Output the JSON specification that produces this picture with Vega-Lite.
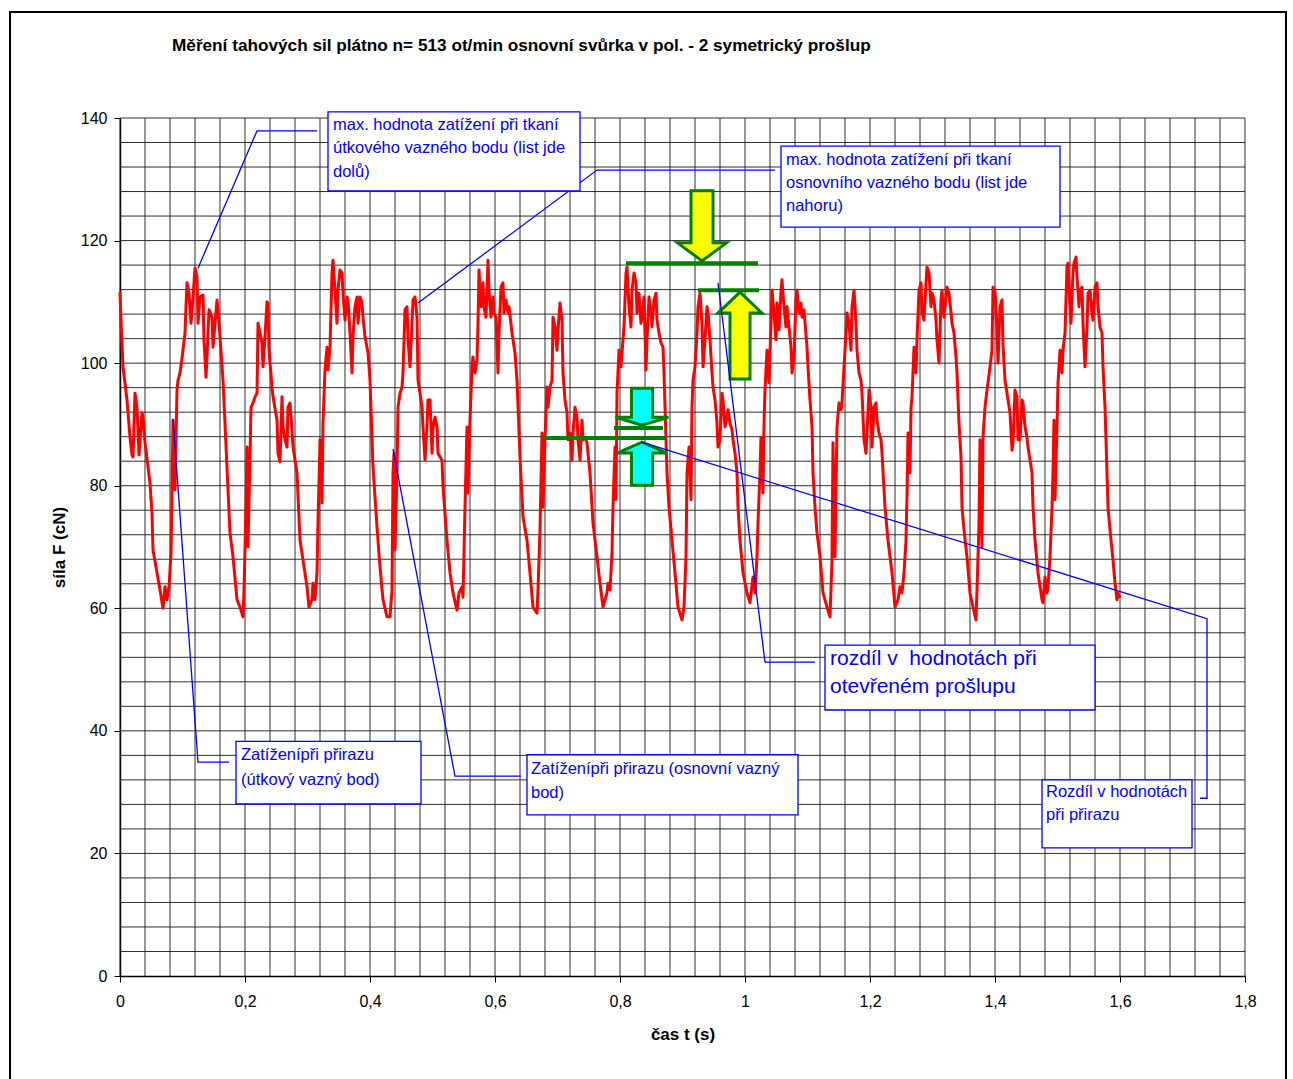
{
 "$schema": "https://vega.github.io/schema/vega-lite/v6.json",
 "width": 1125,
 "height": 858,
 "autosize": {"type": "none"},
 "padding": {"left": 120, "top": 118, "right": 48, "bottom": 103},
 "background": "white",
 "config": {"font": "Liberation Sans", "view": {"stroke": null}},
 "title": {"text": "Měření tahových sil plátno n= 513 ot/min osnovní svůrka v pol. - 2 symetrický prošlup", "anchor": "start", "frame": "group", "dx": 52, "offset": -43, "fontSize": 17.2, "fontWeight": "bold", "color": "#000000", "font": "Liberation Sans"},
 "datasets": {
  "frame": [{"t": -0.176, "t2": 1.8656, "F": 157.3, "F2": -20}],
  "gridX": [{"t":0},{"t":0.04},{"t":0.08},{"t":0.12},{"t":0.16},{"t":0.2},{"t":0.24},{"t":0.28},{"t":0.32},{"t":0.36},{"t":0.4},{"t":0.44},{"t":0.48},{"t":0.52},{"t":0.56},{"t":0.6},{"t":0.64},{"t":0.68},{"t":0.72},{"t":0.76},{"t":0.8},{"t":0.84},{"t":0.88},{"t":0.92},{"t":0.96},{"t":1},{"t":1.04},{"t":1.08},{"t":1.12},{"t":1.16},{"t":1.2},{"t":1.24},{"t":1.28},{"t":1.32},{"t":1.36},{"t":1.4},{"t":1.44},{"t":1.48},{"t":1.52},{"t":1.56},{"t":1.6},{"t":1.64},{"t":1.68},{"t":1.72},{"t":1.76},{"t":1.8}],
  "gridY": [{"F":4},{"F":8},{"F":12},{"F":16},{"F":20},{"F":24},{"F":28},{"F":32},{"F":36},{"F":40},{"F":44},{"F":48},{"F":52},{"F":56},{"F":60},{"F":64},{"F":68},{"F":72},{"F":76},{"F":80},{"F":84},{"F":88},{"F":92},{"F":96},{"F":100},{"F":104},{"F":108},{"F":112},{"F":116},{"F":120},{"F":124},{"F":128},{"F":132},{"F":136},{"F":140}],
  "force": [
{"t":0,"F":111.6},{"t":0.0016,"F":107.0},{"t":0.0048,"F":99.4},{"t":0.0112,"F":94.0},{"t":0.016,"F":87.9},{"t":0.0192,"F":85.0},{"t":0.0208,"F":84.7},{"t":0.024,"F":95.1},{"t":0.0272,"F":92.8},{"t":0.0304,"F":85.0},{"t":0.0352,"F":91.9},{"t":0.0368,"F":91.2},{"t":0.04,"F":87.0},{"t":0.0448,"F":83.1},{"t":0.048,"F":80.4},{"t":0.0512,"F":75.5},{"t":0.0528,"F":69.5},{"t":0.0592,"F":65.8},{"t":0.064,"F":63.0},{"t":0.0688,"F":60.0},{"t":0.072,"F":63.5},{"t":0.0752,"F":61.4},{"t":0.0784,"F":63.5},{"t":0.0816,"F":69.0},{"t":0.0832,"F":78.8},{"t":0.0848,"F":90.7},{"t":0.088,"F":79.3},{"t":0.0912,"F":95.6},{"t":0.0928,"F":97.2},{"t":0.096,"F":98.4},{"t":0.0992,"F":100.8},{"t":0.1008,"F":102.1},{"t":0.104,"F":104.9},{"t":0.1056,"F":109.2},{"t":0.1072,"F":113.1},{"t":0.1104,"F":111.4},{"t":0.1136,"F":106.5},{"t":0.1168,"F":110.8},{"t":0.12,"F":115.5},{"t":0.1232,"F":114.1},{"t":0.1248,"F":106.5},{"t":0.128,"F":110.8},{"t":0.1328,"F":111.1},{"t":0.1344,"F":103.8},{"t":0.1376,"F":97.7},{"t":0.1392,"F":101.0},{"t":0.1424,"F":108.7},{"t":0.1472,"F":107.5},{"t":0.1488,"F":102.6},{"t":0.152,"F":106.5},{"t":0.1552,"F":110.3},{"t":0.1568,"F":108.7},{"t":0.16,"F":104.3},{"t":0.1648,"F":97.2},{"t":0.168,"F":90.2},{"t":0.1728,"F":79.3},{"t":0.176,"F":72.3},{"t":0.1808,"F":68.4},{"t":0.1872,"F":61.4},{"t":0.192,"F":60.2},{"t":0.1968,"F":58.6},{"t":0.1984,"F":63.0},{"t":0.2016,"F":76.5},{"t":0.2032,"F":86.3},{"t":0.2048,"F":70.0},{"t":0.208,"F":84.7},{"t":0.2096,"F":92.8},{"t":0.2128,"F":93.5},{"t":0.216,"F":94.5},{"t":0.2192,"F":95.1},{"t":0.2208,"F":106.5},{"t":0.224,"F":104.9},{"t":0.2272,"F":103.3},{"t":0.2288,"F":99.4},{"t":0.232,"F":104.3},{"t":0.2352,"F":110.0},{"t":0.2368,"F":109.8},{"t":0.2384,"F":102.1},{"t":0.2432,"F":96.1},{"t":0.2448,"F":94.5},{"t":0.2512,"F":90.7},{"t":0.2528,"F":85.3},{"t":0.256,"F":83.9},{"t":0.2592,"F":94.5},{"t":0.2608,"F":89.6},{"t":0.264,"F":87.5},{"t":0.2672,"F":86.3},{"t":0.2688,"F":92.8},{"t":0.272,"F":93.5},{"t":0.2752,"F":89.1},{"t":0.2768,"F":86.3},{"t":0.2832,"F":82.1},{"t":0.288,"F":71.1},{"t":0.2928,"F":67.9},{"t":0.2992,"F":63.5},{"t":0.3024,"F":60.2},{"t":0.3072,"F":61.4},{"t":0.3088,"F":64.1},{"t":0.312,"F":61.4},{"t":0.3152,"F":65.8},{"t":0.3168,"F":73.9},{"t":0.32,"F":87.5},{"t":0.3232,"F":77.2},{"t":0.3248,"F":90.2},{"t":0.328,"F":98.9},{"t":0.3312,"F":102.6},{"t":0.3328,"F":98.9},{"t":0.336,"F":102.6},{"t":0.3392,"F":114.7},{"t":0.3408,"F":116.8},{"t":0.344,"F":111.9},{"t":0.3472,"F":106.5},{"t":0.3488,"F":111.9},{"t":0.352,"F":115.2},{"t":0.3552,"F":114.7},{"t":0.3568,"F":111.4},{"t":0.36,"F":107.0},{"t":0.3632,"F":110.8},{"t":0.3648,"F":110.3},{"t":0.368,"F":104.9},{"t":0.3712,"F":98.4},{"t":0.3728,"F":104.3},{"t":0.376,"F":109.2},{"t":0.3792,"F":110.8},{"t":0.3808,"F":106.5},{"t":0.384,"F":110.8},{"t":0.3872,"F":109.8},{"t":0.3888,"F":107.5},{"t":0.392,"F":104.3},{"t":0.3968,"F":101.7},{"t":0.4,"F":97.2},{"t":0.4048,"F":83.1},{"t":0.408,"F":78.2},{"t":0.4112,"F":73.3},{"t":0.416,"F":66.7},{"t":0.4208,"F":61.4},{"t":0.4272,"F":58.6},{"t":0.432,"F":58.6},{"t":0.4352,"F":63.0},{"t":0.4368,"F":82.1},{"t":0.4384,"F":85.3},{"t":0.44,"F":69.5},{"t":0.4432,"F":82.1},{"t":0.4448,"F":92.8},{"t":0.448,"F":95.1},{"t":0.4512,"F":96.1},{"t":0.4528,"F":98.4},{"t":0.456,"F":108.7},{"t":0.4592,"F":109.2},{"t":0.4608,"F":103.8},{"t":0.464,"F":99.4},{"t":0.4672,"F":106.5},{"t":0.4688,"F":110.3},{"t":0.472,"F":110.8},{"t":0.4752,"F":107.5},{"t":0.4768,"F":97.2},{"t":0.48,"F":95.1},{"t":0.4832,"F":92.8},{"t":0.4848,"F":89.6},{"t":0.488,"F":84.2},{"t":0.4912,"F":89.6},{"t":0.4928,"F":94.0},{"t":0.496,"F":94.0},{"t":0.4992,"F":85.3},{"t":0.5008,"F":89.6},{"t":0.504,"F":91.2},{"t":0.5072,"F":89.6},{"t":0.5088,"F":85.3},{"t":0.512,"F":84.7},{"t":0.5152,"F":84.2},{"t":0.5168,"F":79.8},{"t":0.5232,"F":71.1},{"t":0.528,"F":65.8},{"t":0.5328,"F":62.5},{"t":0.5392,"F":59.7},{"t":0.5424,"F":62.5},{"t":0.5472,"F":63.5},{"t":0.5488,"F":61.8},{"t":0.552,"F":76.5},{"t":0.5552,"F":89.6},{"t":0.5568,"F":78.8},{"t":0.56,"F":90.7},{"t":0.5632,"F":99.4},{"t":0.5648,"F":101.0},{"t":0.568,"F":98.4},{"t":0.5712,"F":100.5},{"t":0.5728,"F":106.5},{"t":0.5744,"F":115.2},{"t":0.5776,"F":109.2},{"t":0.5808,"F":113.1},{"t":0.5824,"F":109.2},{"t":0.5856,"F":107.5},{"t":0.5888,"F":116.8},{"t":0.5904,"F":111.9},{"t":0.5936,"F":107.5},{"t":0.5968,"F":110.8},{"t":0.5984,"F":108.2},{"t":0.6016,"F":107.5},{"t":0.6048,"F":98.4},{"t":0.6064,"F":104.9},{"t":0.6096,"F":112.4},{"t":0.6128,"F":113.1},{"t":0.6144,"F":108.2},{"t":0.6176,"F":110.3},{"t":0.6208,"F":108.2},{"t":0.6224,"F":109.2},{"t":0.6272,"F":104.9},{"t":0.632,"F":101.7},{"t":0.6352,"F":97.2},{"t":0.64,"F":84.7},{"t":0.6448,"F":74.9},{"t":0.6512,"F":71.1},{"t":0.656,"F":65.8},{"t":0.6608,"F":60.2},{"t":0.6672,"F":59.2},{"t":0.6688,"F":63.0},{"t":0.672,"F":72.8},{"t":0.6752,"F":88.6},{"t":0.6768,"F":76.5},{"t":0.68,"F":87.5},{"t":0.6832,"F":96.1},{"t":0.6848,"F":92.8},{"t":0.688,"F":96.1},{"t":0.6912,"F":97.2},{"t":0.6928,"F":107.5},{"t":0.696,"F":105.9},{"t":0.6992,"F":102.1},{"t":0.7008,"F":105.4},{"t":0.704,"F":109.8},{"t":0.7072,"F":107.0},{"t":0.7088,"F":98.4},{"t":0.712,"F":94.0},{"t":0.7152,"F":91.9},{"t":0.7168,"F":87.5},{"t":0.72,"F":88.6},{"t":0.7232,"F":84.2},{"t":0.7248,"F":88.6},{"t":0.728,"F":92.8},{"t":0.7312,"F":91.2},{"t":0.7328,"F":87.5},{"t":0.736,"F":84.2},{"t":0.7392,"F":90.7},{"t":0.7408,"F":87.5},{"t":0.744,"F":87.9},{"t":0.7472,"F":87.0},{"t":0.7488,"F":85.3},{"t":0.752,"F":82.1},{"t":0.7568,"F":73.9},{"t":0.7632,"F":68.4},{"t":0.768,"F":64.1},{"t":0.7728,"F":60.2},{"t":0.7792,"F":62.5},{"t":0.7808,"F":64.1},{"t":0.784,"F":63.0},{"t":0.7872,"F":69.0},{"t":0.7888,"F":76.5},{"t":0.792,"F":86.3},{"t":0.7936,"F":77.7},{"t":0.7952,"F":95.1},{"t":0.7984,"F":102.1},{"t":0.8016,"F":99.4},{"t":0.8032,"F":101.7},{"t":0.8064,"F":105.9},{"t":0.8096,"F":114.7},{"t":0.8112,"F":115.7},{"t":0.8144,"F":109.2},{"t":0.8176,"F":105.9},{"t":0.8192,"F":111.9},{"t":0.8224,"F":114.7},{"t":0.8256,"F":113.1},{"t":0.8272,"F":108.2},{"t":0.8304,"F":111.4},{"t":0.8336,"F":106.5},{"t":0.8352,"F":107.5},{"t":0.8384,"F":110.8},{"t":0.8416,"F":98.9},{"t":0.8432,"F":103.8},{"t":0.8464,"F":110.8},{"t":0.8496,"F":108.2},{"t":0.8512,"F":105.9},{"t":0.8544,"F":110.3},{"t":0.8576,"F":111.4},{"t":0.8592,"F":107.0},{"t":0.8624,"F":104.9},{"t":0.8656,"F":103.3},{"t":0.8688,"F":102.6},{"t":0.8704,"F":98.4},{"t":0.8736,"F":87.5},{"t":0.8752,"F":82.1},{"t":0.8784,"F":76.5},{"t":0.8832,"F":71.1},{"t":0.888,"F":65.8},{"t":0.8928,"F":60.2},{"t":0.8992,"F":58.1},{"t":0.9024,"F":60.2},{"t":0.9056,"F":68.4},{"t":0.9072,"F":82.1},{"t":0.9104,"F":86.3},{"t":0.9136,"F":77.7},{"t":0.9152,"F":92.8},{"t":0.9168,"F":97.2},{"t":0.92,"F":99.4},{"t":0.9232,"F":104.9},{"t":0.9248,"F":109.2},{"t":0.928,"F":111.4},{"t":0.9312,"F":106.5},{"t":0.9328,"F":99.4},{"t":0.936,"F":103.8},{"t":0.9392,"F":109.2},{"t":0.9408,"F":108.2},{"t":0.944,"F":103.8},{"t":0.9472,"F":98.4},{"t":0.9488,"F":96.1},{"t":0.952,"F":94.0},{"t":0.9552,"F":90.2},{"t":0.9568,"F":86.3},{"t":0.96,"F":87.5},{"t":0.9632,"F":95.1},{"t":0.9648,"F":94.0},{"t":0.968,"F":89.6},{"t":0.9712,"F":91.2},{"t":0.9728,"F":92.4},{"t":0.976,"F":90.2},{"t":0.9792,"F":89.1},{"t":0.9808,"F":87.5},{"t":0.984,"F":85.3},{"t":0.9872,"F":82.1},{"t":0.9888,"F":76.5},{"t":0.992,"F":71.1},{"t":0.9968,"F":65.8},{"t":1.0032,"F":62.5},{"t":1.008,"F":60.9},{"t":1.0128,"F":65.1},{"t":1.016,"F":62.5},{"t":1.0192,"F":68.4},{"t":1.0208,"F":73.9},{"t":1.024,"F":82.1},{"t":1.0256,"F":87.9},{"t":1.0288,"F":78.8},{"t":1.0304,"F":90.2},{"t":1.032,"F":95.6},{"t":1.0352,"F":102.1},{"t":1.0368,"F":99.4},{"t":1.0384,"F":96.8},{"t":1.0416,"F":106.5},{"t":1.0432,"F":111.9},{"t":1.0464,"F":108.2},{"t":1.0496,"F":103.8},{"t":1.0512,"F":109.8},{"t":1.0544,"F":105.4},{"t":1.0576,"F":111.9},{"t":1.0592,"F":113.6},{"t":1.0624,"F":109.2},{"t":1.0656,"F":105.9},{"t":1.0672,"F":109.2},{"t":1.0704,"F":105.9},{"t":1.0736,"F":102.6},{"t":1.0752,"F":98.4},{"t":1.0784,"F":101.0},{"t":1.0816,"F":110.3},{"t":1.0832,"F":111.9},{"t":1.0864,"F":108.2},{"t":1.0896,"F":109.8},{"t":1.0912,"F":107.5},{"t":1.0944,"F":108.7},{"t":1.0992,"F":102.6},{"t":1.1008,"F":99.4},{"t":1.104,"F":94.0},{"t":1.1072,"F":89.6},{"t":1.1088,"F":82.1},{"t":1.112,"F":76.5},{"t":1.1152,"F":72.3},{"t":1.12,"F":68.4},{"t":1.1248,"F":62.5},{"t":1.1312,"F":60.2},{"t":1.136,"F":58.6},{"t":1.1392,"F":67.9},{"t":1.1408,"F":87.0},{"t":1.144,"F":68.4},{"t":1.1456,"F":79.3},{"t":1.1472,"F":89.6},{"t":1.1504,"F":93.5},{"t":1.1536,"F":92.4},{"t":1.1552,"F":93.5},{"t":1.1584,"F":99.4},{"t":1.1616,"F":104.9},{"t":1.1632,"F":108.2},{"t":1.1664,"F":106.5},{"t":1.1696,"F":102.1},{"t":1.1712,"F":109.2},{"t":1.1744,"F":111.9},{"t":1.1776,"F":106.5},{"t":1.1792,"F":102.1},{"t":1.1824,"F":98.4},{"t":1.1856,"F":97.2},{"t":1.1872,"F":95.1},{"t":1.1904,"F":87.5},{"t":1.1936,"F":85.3},{"t":1.1952,"F":88.6},{"t":1.1984,"F":95.6},{"t":1.2016,"F":92.8},{"t":1.2032,"F":86.3},{"t":1.2064,"F":92.8},{"t":1.2096,"F":93.5},{"t":1.2112,"F":90.7},{"t":1.2144,"F":88.6},{"t":1.2176,"F":87.5},{"t":1.2192,"F":85.3},{"t":1.224,"F":76.5},{"t":1.2288,"F":71.1},{"t":1.2352,"F":65.8},{"t":1.24,"F":60.2},{"t":1.2448,"F":61.4},{"t":1.248,"F":63.5},{"t":1.2512,"F":62.5},{"t":1.2544,"F":65.8},{"t":1.2576,"F":71.1},{"t":1.2592,"F":78.2},{"t":1.2608,"F":88.6},{"t":1.264,"F":82.1},{"t":1.2656,"F":92.8},{"t":1.2672,"F":94.5},{"t":1.2704,"F":102.6},{"t":1.2736,"F":98.4},{"t":1.2752,"F":103.8},{"t":1.2784,"F":111.9},{"t":1.2816,"F":113.1},{"t":1.2832,"F":108.2},{"t":1.2864,"F":107.0},{"t":1.2896,"F":113.1},{"t":1.2912,"F":115.7},{"t":1.2944,"F":114.7},{"t":1.2976,"F":109.2},{"t":1.2992,"F":111.4},{"t":1.3024,"F":110.3},{"t":1.3056,"F":107.0},{"t":1.3072,"F":103.8},{"t":1.3104,"F":100.0},{"t":1.3136,"F":110.3},{"t":1.3152,"F":111.9},{"t":1.3184,"F":107.5},{"t":1.3216,"F":110.8},{"t":1.3232,"F":112.4},{"t":1.3264,"F":111.4},{"t":1.3296,"F":108.2},{"t":1.3312,"F":106.5},{"t":1.3344,"F":104.9},{"t":1.3376,"F":101.0},{"t":1.3392,"F":98.4},{"t":1.3424,"F":90.2},{"t":1.3456,"F":84.7},{"t":1.3472,"F":76.5},{"t":1.3504,"F":72.8},{"t":1.3552,"F":68.4},{"t":1.36,"F":62.5},{"t":1.3648,"F":60.2},{"t":1.3696,"F":58.1},{"t":1.3712,"F":63.0},{"t":1.3744,"F":73.9},{"t":1.376,"F":87.5},{"t":1.3792,"F":70.0},{"t":1.3808,"F":87.9},{"t":1.384,"F":92.8},{"t":1.3872,"F":95.6},{"t":1.3888,"F":96.8},{"t":1.392,"F":99.4},{"t":1.3952,"F":102.1},{"t":1.3968,"F":112.4},{"t":1.4,"F":111.9},{"t":1.4032,"F":105.4},{"t":1.4048,"F":100.0},{"t":1.408,"F":109.2},{"t":1.4112,"F":110.3},{"t":1.4128,"F":103.0},{"t":1.416,"F":97.2},{"t":1.4192,"F":95.1},{"t":1.424,"F":91.9},{"t":1.4272,"F":85.8},{"t":1.4288,"F":87.0},{"t":1.432,"F":95.6},{"t":1.4352,"F":94.5},{"t":1.4368,"F":87.5},{"t":1.44,"F":87.5},{"t":1.4432,"F":94.0},{"t":1.4448,"F":93.5},{"t":1.448,"F":89.6},{"t":1.4512,"F":87.9},{"t":1.4528,"F":86.3},{"t":1.4592,"F":82.1},{"t":1.4608,"F":76.5},{"t":1.464,"F":71.1},{"t":1.4688,"F":65.8},{"t":1.4752,"F":61.4},{"t":1.4768,"F":60.9},{"t":1.48,"F":65.1},{"t":1.4832,"F":62.5},{"t":1.4848,"F":63.5},{"t":1.488,"F":68.4},{"t":1.4912,"F":76.5},{"t":1.4928,"F":82.1},{"t":1.4944,"F":90.7},{"t":1.496,"F":77.7},{"t":1.4992,"F":89.6},{"t":1.5008,"F":96.8},{"t":1.504,"F":102.1},{"t":1.5072,"F":98.4},{"t":1.5088,"F":102.1},{"t":1.512,"F":104.9},{"t":1.5152,"F":115.7},{"t":1.5168,"F":116.3},{"t":1.52,"F":109.2},{"t":1.5216,"F":106.5},{"t":1.5248,"F":114.7},{"t":1.5264,"F":116.3},{"t":1.5296,"F":117.3},{"t":1.5312,"F":114.1},{"t":1.5344,"F":109.2},{"t":1.536,"F":111.9},{"t":1.5392,"F":112.4},{"t":1.5408,"F":106.5},{"t":1.544,"F":99.4},{"t":1.5472,"F":105.9},{"t":1.5488,"F":111.4},{"t":1.552,"F":111.9},{"t":1.5552,"F":108.2},{"t":1.5568,"F":107.0},{"t":1.56,"F":112.4},{"t":1.5632,"F":113.1},{"t":1.5648,"F":109.2},{"t":1.568,"F":105.9},{"t":1.5712,"F":104.9},{"t":1.5728,"F":99.4},{"t":1.576,"F":92.8},{"t":1.5792,"F":82.1},{"t":1.5808,"F":76.5},{"t":1.584,"F":72.8},{"t":1.5888,"F":67.9},{"t":1.592,"F":64.1},{"t":1.5952,"F":61.4},{"t":1.5968,"F":62.5},{"t":1.6,"F":61.7}
  ],
  "leaders": [
   {"grp": "L1", "seq": 1, "t": 0.3152, "F": 137.9}, {"grp": "L1", "seq": 2, "t": 0.2192, "F": 137.9}, {"grp": "L1", "seq": 3, "t": 0.1248, "F": 115.5},
   {"grp": "L2", "seq": 1, "t": 1.048, "F": 131.5}, {"grp": "L2", "seq": 2, "t": 0.7632, "F": 131.5}, {"grp": "L2", "seq": 3, "t": 0.4768, "F": 109.8},
   {"grp": "L3", "seq": 1, "t": 0.9568, "F": 113.1}, {"grp": "L3", "seq": 2, "t": 1.032, "F": 51.2}, {"grp": "L3", "seq": 3, "t": 1.112, "F": 51.2},
   {"grp": "L4", "seq": 1, "t": 0.8352, "F": 87.1}, {"grp": "L4", "seq": 2, "t": 1.7392, "F": 58.3}, {"grp": "L4", "seq": 3, "t": 1.7392, "F": 29.0}, {"grp": "L4", "seq": 4, "t": 1.728, "F": 29.0},
   {"grp": "L5", "seq": 1, "t": 0.0848, "F": 90.9}, {"grp": "L5", "seq": 2, "t": 0.1248, "F": 34.9}, {"grp": "L5", "seq": 3, "t": 0.1744, "F": 34.9},
   {"grp": "L6", "seq": 1, "t": 0.4368, "F": 86.0}, {"grp": "L6", "seq": 2, "t": 0.536, "F": 32.6}, {"grp": "L6", "seq": 3, "t": 0.6416, "F": 32.6}
  ],
  "boxes": [
   {"box": "B1", "t": 0.3328, "t2": 0.736, "F": 141.0, "F2": 128.1},
   {"box": "B2", "t": 1.0576, "t2": 1.504, "F": 135.4, "F2": 122.2},
   {"box": "B3", "t": 1.128, "t2": 1.56, "F": 54.0, "F2": 43.4},
   {"box": "B4", "t": 1.4752, "t2": 1.7152, "F": 32.0, "F2": 20.9},
   {"box": "B5", "t": 0.1856, "t2": 0.4816, "F": 38.3, "F2": 28.1},
   {"box": "B6", "t": 0.6512, "t2": 1.0848, "F": 36.1, "F2": 26.3}
  ],
  "labels": [
   {"box": "B1", "t": 0.3408, "F": 138.9, "txt": "max. hodnota zatížení při tkaní"},
   {"box": "B1", "t": 0.3408, "F": 135.1, "txt": "útkového vazného bodu (list jde"},
   {"box": "B1", "t": 0.3408, "F": 131.2, "txt": "dolů)"},
   {"box": "B2", "t": 1.0656, "F": 133.1, "txt": "max. hodnota zatížení při tkaní"},
   {"box": "B2", "t": 1.0656, "F": 129.4, "txt": "osnovního vazného bodu (list jde"},
   {"box": "B2", "t": 1.0656, "F": 125.6, "txt": "nahoru)"},
   {"box": "B3", "t": 1.136, "F": 51.7, "txt": "rozdíl v\u00a0 hodnotách při"},
   {"box": "B3", "t": 1.136, "F": 47.2, "txt": "otevřeném prošlupu"},
   {"box": "B4", "t": 1.4816, "F": 30.0, "txt": "Rozdíl v hodnotách"},
   {"box": "B4", "t": 1.4816, "F": 26.3, "txt": "při přirazu"},
   {"box": "B5", "t": 0.1936, "F": 36.1, "txt": "Zatíženípři přirazu"},
   {"box": "B5", "t": 0.1936, "F": 32.0, "txt": "(útkový vazný bod)"},
   {"box": "B6", "t": 0.6576, "F": 33.8, "txt": "Zatíženípři přirazu (osnovní vazný"},
   {"box": "B6", "t": 0.6576, "F": 29.9, "txt": "bod)"}
  ],
  "greens": [
   {"t": 0.8096, "t2": 1.0208, "F": 116.3},
   {"t": 0.9248, "t2": 1.0224, "F": 111.9},
   {"t": 0.7904, "t2": 0.8688, "F": 89.4},
   {"t": 0.6784, "t2": 0.872, "F": 87.8}
  ],
  "arrows": [
   {"arrow": "yellowDown", "t": 0.9312, "F": 122.4},
   {"arrow": "yellowUp", "t": 0.992, "F": 104.5},
   {"arrow": "cyanDown", "t": 0.8352, "F": 92.9},
   {"arrow": "cyanUp", "t": 0.8352, "F": 83.6}
  ]
 },
 "layer": [
  {
   "data": {"name": "gridX"},
   "mark": {"type": "rule", "color": "#1a1a1a", "strokeWidth": 1, "opacity": 0.9},
   "encoding": {
    "x": {"field": "t", "type": "quantitative", "scale": {"domain": [0, 1.8], "nice": false, "zero": false},
     "axis": {
      "values": [0,0.2,0.4,0.6,0.8,1,1.2,1.4,1.6,1.8],
      "labelExpr": "replace(format(datum.value,'.1~f'),'.',',')",
      "labelFlush": false, "labelOverlap": false,
      "labelFontSize": 16, "labelColor": "#000000", "labelPadding": 11,
      "tickSize": 6, "tickColor": "#000000",
      "domainColor": "#000000", "domainWidth": 1.5,
      "grid": false,
      "title": "čas t (s)", "titleFontSize": 17, "titleFontWeight": "bold", "titleColor": "#000000", "titlePadding": 17
     }}
   }
  },
  {
   "data": {"name": "gridY"},
   "mark": {"type": "rule", "color": "#1a1a1a", "strokeWidth": 1, "opacity": 0.9},
   "encoding": {
    "y": {"field": "F", "type": "quantitative", "scale": {"domain": [0, 140], "nice": false, "zero": false},
     "axis": {
      "values": [0,20,40,60,80,100,120,140],
      "labelOverlap": false, "labelFlush": false,
      "labelFontSize": 16, "labelColor": "#000000", "labelPadding": 7,
      "tickSize": 6, "tickColor": "#000000",
      "domainColor": "#000000", "domainWidth": 1.5,
      "grid": false,
      "title": "síla F (cN)", "titleFontSize": 17, "titleFontWeight": "bold", "titleColor": "#000000", "titlePadding": 12
     }}
   }
  },
  {
   "data": {"name": "force"},
   "mark": {"type": "line", "color": "#ff0000", "strokeWidth": 3, "strokeJoin": "round"},
   "encoding": {
    "x": {"field": "t", "type": "quantitative", "scale": {"domain": [0, 1.8], "nice": false, "zero": false}},
    "y": {"field": "F", "type": "quantitative", "scale": {"domain": [0, 140], "nice": false, "zero": false}}
   }
  },
  {
   "data": {"name": "frame"},
   "mark": {"type": "rect", "fillOpacity": 0, "stroke": "#000000", "strokeWidth": 2},
   "encoding": {
    "x": {"field": "t", "type": "quantitative", "scale": {"domain": [0, 1.8], "nice": false, "zero": false}},
    "x2": {"field": "t2"},
    "y": {"field": "F", "type": "quantitative", "scale": {"domain": [0, 140], "nice": false, "zero": false}},
    "y2": {"field": "F2"}
   }
  },
  {
   "data": {"name": "greens"},
   "mark": {"type": "rule", "color": "#008000", "strokeWidth": 4},
   "encoding": {
    "x": {"field": "t", "type": "quantitative", "scale": {"domain": [0, 1.8], "nice": false, "zero": false}},
    "x2": {"field": "t2"},
    "y": {"field": "F", "type": "quantitative", "scale": {"domain": [0, 140], "nice": false, "zero": false}}
   }
  },
  {
   "data": {"name": "arrows"},
   "transform": [{"filter": "datum.arrow == 'yellowDown'"}],
   "mark": {"type": "point", "filled": true, "fill": "#ffff00", "fillOpacity": 1, "stroke": "#008000", "strokeWidth": 3, "opacity": 1, "size": 4900,
    "shape": "M-0.314,-1 L0.314,-1 L0.314,0.486 L0.7,0.486 L0,1 L-0.7,0.486 L-0.314,0.486 Z"},
   "encoding": {
    "x": {"field": "t", "type": "quantitative", "scale": {"domain": [0, 1.8], "nice": false, "zero": false}},
    "y": {"field": "F", "type": "quantitative", "scale": {"domain": [0, 140], "nice": false, "zero": false}}
   }
  },
  {
   "data": {"name": "arrows"},
   "transform": [{"filter": "datum.arrow == 'yellowUp'"}],
   "mark": {"type": "point", "filled": true, "fill": "#ffff00", "fillOpacity": 1, "stroke": "#008000", "strokeWidth": 3, "opacity": 1, "size": 7569,
    "shape": "M0,-1 L0.506,-0.517 L0.23,-0.517 L0.23,1 L-0.23,1 L-0.23,-0.517 L-0.506,-0.517 Z"},
   "encoding": {
    "x": {"field": "t", "type": "quantitative", "scale": {"domain": [0, 1.8], "nice": false, "zero": false}},
    "y": {"field": "F", "type": "quantitative", "scale": {"domain": [0, 140], "nice": false, "zero": false}}
   }
  },
  {
   "data": {"name": "arrows"},
   "transform": [{"filter": "datum.arrow == 'cyanDown'"}],
   "mark": {"type": "point", "filled": true, "fill": "#00ffff", "fillOpacity": 1, "stroke": "#008000", "strokeWidth": 3, "opacity": 1, "size": 1369,
    "shape": "M-0.57,-1 L0.57,-1 L0.57,0.57 L1.43,0.57 L0,1 L-1.43,0.57 L-0.57,0.57 Z"},
   "encoding": {
    "x": {"field": "t", "type": "quantitative", "scale": {"domain": [0, 1.8], "nice": false, "zero": false}},
    "y": {"field": "F", "type": "quantitative", "scale": {"domain": [0, 140], "nice": false, "zero": false}}
   }
  },
  {
   "data": {"name": "arrows"},
   "transform": [{"filter": "datum.arrow == 'cyanUp'"}],
   "mark": {"type": "point", "filled": true, "fill": "#00ffff", "fillOpacity": 1, "stroke": "#008000", "strokeWidth": 3, "opacity": 1, "size": 1849,
    "shape": "M0,-1 L1.16,-0.49 L0.49,-0.49 L0.49,1 L-0.49,1 L-0.49,-0.49 L-1.16,-0.49 Z"},
   "encoding": {
    "x": {"field": "t", "type": "quantitative", "scale": {"domain": [0, 1.8], "nice": false, "zero": false}},
    "y": {"field": "F", "type": "quantitative", "scale": {"domain": [0, 140], "nice": false, "zero": false}}
   }
  },
  {
   "data": {"name": "leaders"},
   "mark": {"type": "line", "color": "#0000ff", "strokeWidth": 1.3},
   "encoding": {
    "x": {"field": "t", "type": "quantitative", "scale": {"domain": [0, 1.8], "nice": false, "zero": false}},
    "y": {"field": "F", "type": "quantitative", "scale": {"domain": [0, 140], "nice": false, "zero": false}},
    "detail": {"field": "grp", "type": "nominal"},
    "order": {"field": "seq", "type": "quantitative"}
   }
  },
  {
   "data": {"name": "boxes"},
   "mark": {"type": "rect", "fill": "#ffffff", "stroke": "#0000ff", "strokeWidth": 1.3},
   "encoding": {
    "x": {"field": "t", "type": "quantitative", "scale": {"domain": [0, 1.8], "nice": false, "zero": false}},
    "x2": {"field": "t2"},
    "y": {"field": "F", "type": "quantitative", "scale": {"domain": [0, 140], "nice": false, "zero": false}},
    "y2": {"field": "F2"}
   }
  },
  {
   "data": {"name": "labels"},
   "transform": [{"filter": "datum.box != 'B3'"}],
   "mark": {"type": "text", "align": "left", "baseline": "middle", "color": "#0000ff", "fontSize": 16.5, "font": "Liberation Sans"},
   "encoding": {
    "x": {"field": "t", "type": "quantitative", "scale": {"domain": [0, 1.8], "nice": false, "zero": false}},
    "y": {"field": "F", "type": "quantitative", "scale": {"domain": [0, 140], "nice": false, "zero": false}},
    "text": {"field": "txt", "type": "nominal"}
   }
  },
  {
   "data": {"name": "labels"},
   "transform": [{"filter": "datum.box == 'B3'"}],
   "mark": {"type": "text", "align": "left", "baseline": "middle", "color": "#0000ff", "fontSize": 21, "font": "Liberation Sans"},
   "encoding": {
    "x": {"field": "t", "type": "quantitative", "scale": {"domain": [0, 1.8], "nice": false, "zero": false}},
    "y": {"field": "F", "type": "quantitative", "scale": {"domain": [0, 140], "nice": false, "zero": false}},
    "text": {"field": "txt", "type": "nominal"}
   }
  }
 ]
}
